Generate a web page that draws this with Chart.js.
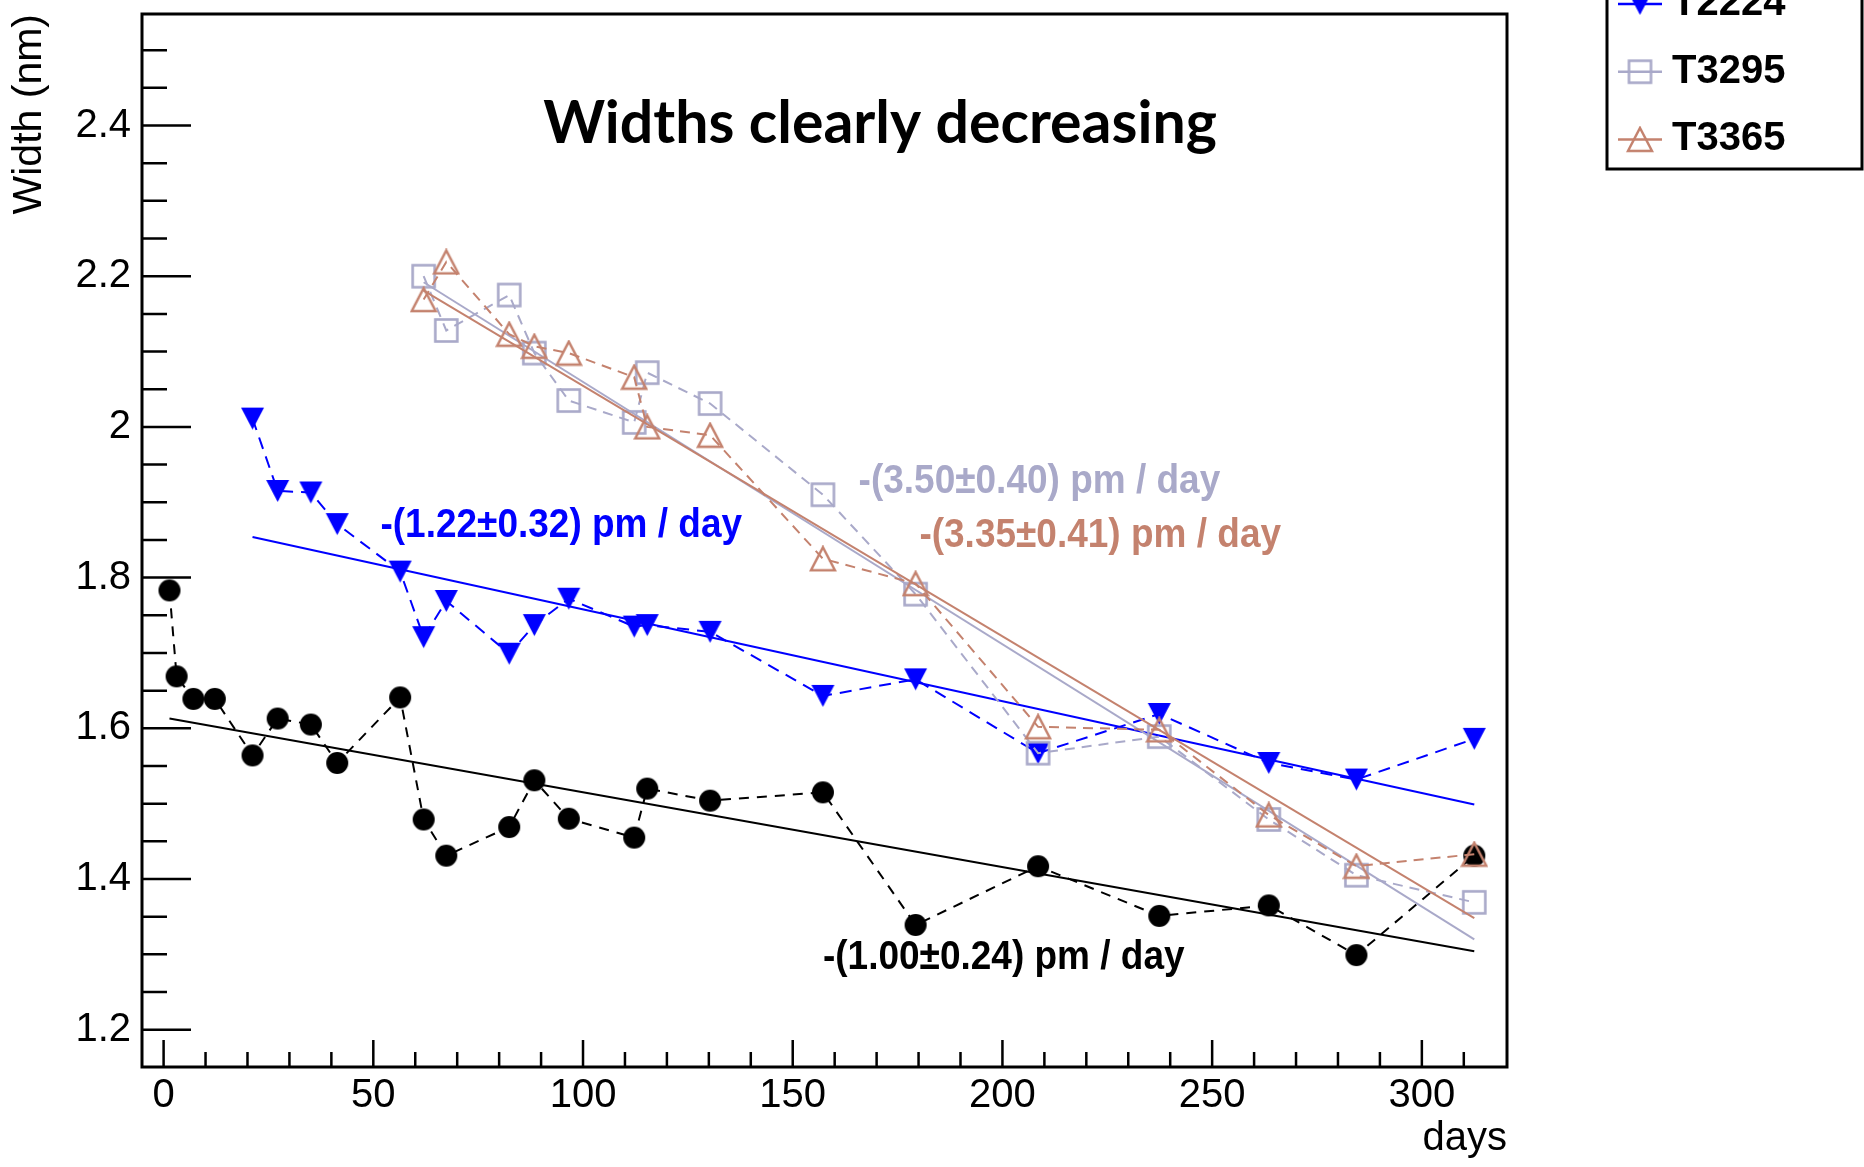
<!DOCTYPE html>
<html>
<head>
<meta charset="utf-8">
<script src="https://cdn.jsdelivr.net/npm/chart.js@4.4.1/dist/chart.umd.min.js"></script>
<style>
  html, body { margin: 0; padding: 0; background: #fff; }
</style>
</head>
<body>
<canvas id="widthChart" width="1864" height="1167"></canvas>
<script>
// measurement days (x), shared by all samples; shorter series use the last entries
const days = [1.4, 3.1, 7.1, 12.2, 21.2, 27.2, 35.1, 41.4, 56.4, 62.0, 67.4, 82.4, 88.4, 96.6,
  112.2, 115.3, 130.3, 157.2, 179.3, 208.5, 237.4, 263.5, 284.4, 312.5];

// widths in nm
const widthsBlack = [1.783, 1.669, 1.639, 1.639, 1.564, 1.613, 1.605, 1.554, 1.641, 1.479, 1.431, 1.469,
  1.531, 1.480, 1.455, 1.520, 1.504, 1.515, 1.339, 1.417, 1.351, 1.365, 1.299, 1.431];
const widthsT2224 = [2.011, 1.915, 1.913, 1.871, 1.808, 1.721, 1.769, 1.699, 1.737, 1.772, 1.735, 1.737,
  1.728, 1.643, 1.665, 1.567, 1.619, 1.554, 1.532, 1.586];
const widthsT3295 = [2.200, 2.128, 2.175, 2.098, 2.035, 2.006, 2.072, 2.031, 1.910, 1.778, 1.567, 1.589,
  1.479, 1.405, 1.369];
const widthsT3365 = [2.169, 2.219, 2.123, 2.107, 2.098, 2.066, 2.000, 1.989, 1.825, 1.792, 1.602, 1.598,
  1.485, 1.417, 1.433];

// linear fits: value at first day, value at last day
const fitBlack = [1.613, 1.304];
const fitT2224 = [1.854, 1.499];
const fitT3295 = [2.192, 1.320];
const fitT3365 = [2.181, 1.348];

const slopeTexts = ['-(1.00±0.24) pm / day', '-(1.22±0.32) pm / day', '-(3.50±0.40) pm / day', '-(3.35±0.41) pm / day'];
const chartTitle = 'Widths clearly decreasing';
const legendNames = ['T2224', 'T3295', 'T3365'];

const xTickValues = [0, 50, 100, 150, 200, 250, 300];
const xTickLabels = ['0', '50', '100', '150', '200', '250', '300'];
const yTickValues = [1.2, 1.4, 1.6, 1.8, 2, 2.2, 2.4];
const yTickLabels = ['1.2', '1.4', '1.6', '1.8', '2', '2.2', '2.4'];

const BLUE = '#0000ff';
const GREY = '#a9a9c9';
const BROWN = '#c4826e';

const pts = vals => {
  const off = days.length - vals.length;
  return vals.map((v, i) => ({ x: days[off + i], y: v }));
};
const fitPts = (vals, ends) => [
  { x: days[days.length - vals.length], y: ends[0] },
  { x: days[days.length - 1], y: ends[1] }
];

// marker images
function marker(w, h, draw) {
  const c = document.createElement('canvas');
  c.width = w; c.height = h;
  draw(c.getContext('2d'));
  return c;
}
const markCircle = marker(24, 24, g => {
  g.fillStyle = '#000'; g.beginPath(); g.arc(12, 12, 11, 0, Math.PI * 2); g.fill();
});
const markTriDown = marker(25, 24, g => {
  g.fillStyle = BLUE; g.beginPath(); g.moveTo(1, 1); g.lineTo(24, 1); g.lineTo(12.5, 23); g.closePath(); g.fill();
});
const markSquare = marker(27, 27, g => {
  g.strokeStyle = GREY; g.lineWidth = 2.6; g.strokeRect(2.5, 2.5, 22, 22);
});
const markTriUp = marker(28, 27, g => {
  g.strokeStyle = BROWN; g.lineWidth = 2.5; g.lineJoin = 'miter';
  g.beginPath(); g.moveTo(14, 2); g.lineTo(26, 25); g.lineTo(2, 25); g.closePath(); g.stroke();
});

const series = (label, vals, color, dash, mark, order) => ({
  label: label, data: pts(vals), borderColor: color, backgroundColor: color,
  borderWidth: 2, borderDash: dash, pointStyle: mark, pointRadius: 12,
  showLine: true, order: order
});
const fitLine = (vals, ends, color, order) => ({
  label: '', data: fitPts(vals, ends), borderColor: color, borderWidth: 2,
  pointRadius: 0, showLine: true, order: order
});

const tickFont = { family: 'Liberation Sans', size: 40 };

// slope label anchors (data coords, left edge of text)
const slopePos = [
  { x: 157.2, y: 1.295, color: '#000' },
  { x: 51.7, y: 1.869, color: BLUE },
  { x: 165.7, y: 1.927, color: GREY },
  { x: 180.2, y: 1.856, color: BROWN }
];

const decorPlugin = {
  id: 'decor',
  afterDatasetsDraw(chart) {
    const { ctx, chartArea: a, scales: { x, y } } = chart;
    ctx.save();

    // title
    ctx.fillStyle = '#000';
    ctx.font = 'bold 59px Lato';
    ctx.textAlign = 'center';
    ctx.textBaseline = 'middle';
    ctx.fillText(chartTitle, 880, 124);

    // slope texts (ROOT text is a bit stretched vertically)
    ctx.font = 'bold 37px "Liberation Sans"';
    ctx.textAlign = 'left';
    slopePos.forEach((p, i) => {
      ctx.save();
      ctx.fillStyle = p.color;
      ctx.translate(x.getPixelForValue(p.x), y.getPixelForValue(p.y));
      ctx.scale(1, 1.1);
      ctx.fillText(slopeTexts[i], 0, 0);
      ctx.restore();
    });

    // frame
    ctx.strokeStyle = '#000';
    ctx.lineWidth = 3;
    ctx.strokeRect(a.left, a.top, a.right - a.left, a.bottom - a.top);

    // inward ticks
    ctx.lineWidth = 2.5;
    ctx.beginPath();
    for (let k = 24; k <= 50; k++) {
      const py = y.getPixelForValue(k * 0.05);
      ctx.moveTo(a.left, py);
      ctx.lineTo(a.left + (k % 4 === 0 ? 49 : 25), py);
    }
    for (let d = 0; d < 320; d += 10) {
      const px = x.getPixelForValue(d);
      ctx.moveTo(px, a.bottom);
      ctx.lineTo(px, a.bottom - (d % 50 === 0 ? 27 : 15));
    }
    ctx.stroke();

    // legend box (top runs off the page)
    const lx = 1607, lr = 1862, lb = 169;
    ctx.lineWidth = 3;
    ctx.strokeRect(lx, -120, lr - lx, lb + 120);
    ctx.font = 'bold 40px "Liberation Sans"';
    ctx.textBaseline = 'middle';
    legendNames.forEach((name, i) => {
      const d = chart.data.datasets.find(s => s.label === name);
      const cy = 4 + i * 67.7;
      ctx.strokeStyle = d.borderColor;
      ctx.lineWidth = 2.5;
      ctx.beginPath();
      ctx.moveTo(1618, cy);
      ctx.lineTo(1662, cy);
      ctx.stroke();
      const m = d.pointStyle;
      ctx.drawImage(m, 1640 - m.width / 2, cy - m.height / 2);
      ctx.fillStyle = '#000';
      ctx.fillText(name, 1672, cy);
    });

    ctx.restore();
  }
};

const noPad = s => { s.paddingTop = 0; s.paddingBottom = 0; s.paddingLeft = 0; s.paddingRight = 0; };

const ctx = document.getElementById('widthChart').getContext('2d');
new Chart(ctx, {
  type: 'line',
  data: {
    datasets: [
      series('T3365', widthsT3365, BROWN, [10, 7], markTriUp, 1),
      fitLine(widthsT3365, fitT3365, BROWN, 2),
      series('T3295', widthsT3295, GREY, [10, 7], markSquare, 3),
      fitLine(widthsT3295, fitT3295, GREY, 4),
      series('T2224', widthsT2224, BLUE, [12, 8], markTriDown, 5),
      fitLine(widthsT2224, fitT2224, BLUE, 6),
      series('', widthsBlack, '#000', [10, 8], markCircle, 7),
      fitLine(widthsBlack, fitBlack, '#000', 8)
    ]
  },
  options: {
    responsive: false,
    animation: false,
    layout: { padding: { top: 12, right: 357, left: 0, bottom: 0 } },
    plugins: { legend: { display: false }, tooltip: { enabled: false } },
    scales: {
      x: {
        type: 'linear', min: -5.15, max: 320.3,
        afterBuildTicks: s => { s.ticks = xTickValues.map(v => ({ value: v })); },
        afterFit: s => { s.height = 100; noPad(s); },
        grid: { display: false, drawTicks: false },
        border: { display: false },
        ticks: {
          font: tickFont, color: '#000', padding: 5, maxRotation: 0, autoSkip: false,
          callback: (v, i) => xTickLabels[i]
        },
        title: { display: true, text: 'days', align: 'end', color: '#000', font: tickFont, padding: { top: 0, bottom: 4 } }
      },
      y: {
        type: 'linear', min: 1.1505, max: 2.548,
        afterBuildTicks: s => { s.ticks = yTickValues.map(v => ({ value: v })); },
        afterFit: s => { s.width = 142; noPad(s); },
        grid: { display: false, drawTicks: false },
        border: { display: false },
        ticks: {
          font: tickFont, color: '#000', padding: 11, autoSkip: false,
          callback: (v, i) => yTickLabels[i]
        },
        title: { display: true, text: 'Width (nm)', align: 'end', color: '#000', font: { family: 'Liberation Sans', size: 41 }, padding: { top: 5, bottom: 0 } }
      }
    }
  },
  plugins: [decorPlugin]
});
</script>
</body>
</html>
